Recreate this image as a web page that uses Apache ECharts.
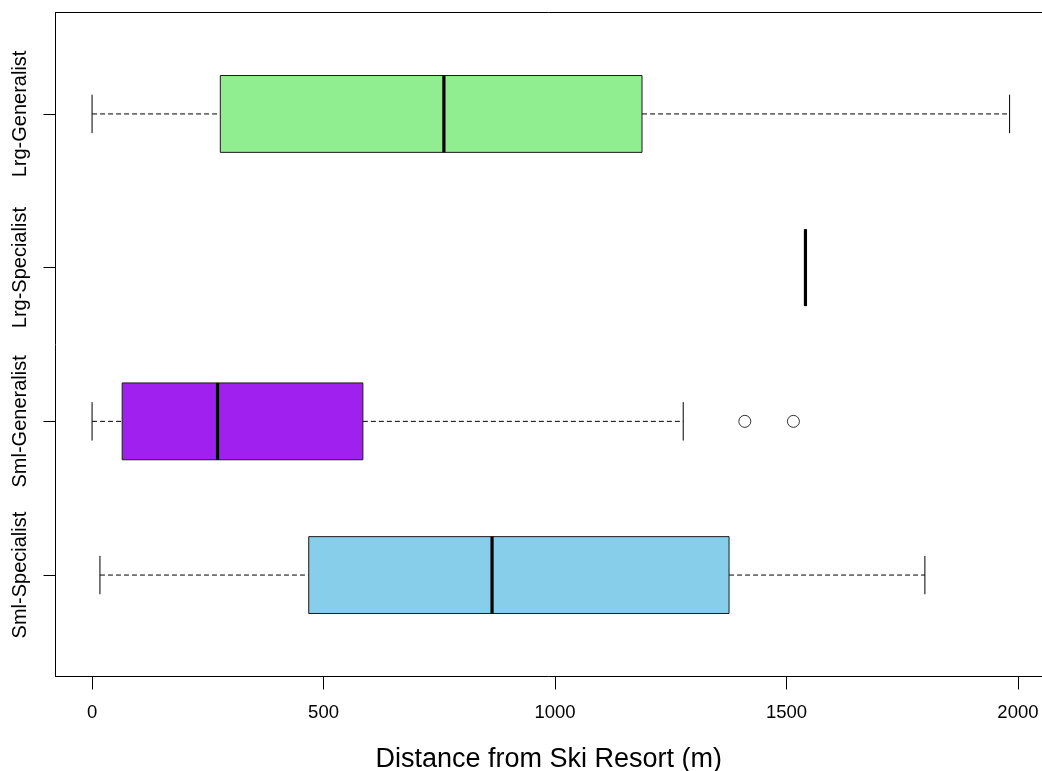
<!DOCTYPE html>
<html>
<head>
<meta charset="utf-8">
<script src="https://cdn.jsdelivr.net/npm/echarts@6/dist/echarts.min.js"></script>
<style>
html,body{margin:0;padding:0;background:#fff;}
#chart{width:1042px;height:771px;}
</style>
</head>
<body>
<div id="chart"></div>
<script>
// Groups from bottom (1) to top (4)
var categories = ['Sml-Specialist', 'Sml-Generalist', 'Lrg-Specialist', 'Lrg-Generalist'];
var lowWhisker  = [17, 0, 1541, 0];
var q1          = [468, 65, 1541, 277];
var median      = [864, 271, 1541, 760];
var q3          = [1376, 585, 1541, 1188];
var highWhisker = [1799, 1277, 1541, 1982];
var boxColors   = ['#87CEEB', '#A020F0', '#87CEEB', '#90EE90'];
var outlierGroup  = 'Sml-Generalist';
var outlierValues = [1410, 1515];
var xTickValues = [0, 500, 1000, 1500, 2000];
var xRange = [-79, 2052];   // visible part of the x axis (plot is cut at the right edge)
var yRange = [0.34, 4.66];

var FONT = "'Liberation Sans', Arial, sans-serif";

var boxData = categories.map(function (c, i) {
  return [i + 1, lowWhisker[i], q1[i], median[i], q3[i], highWhisker[i]];
});
var outlierData = outlierValues.map(function (v) {
  return [v, categories.indexOf(outlierGroup) + 1];
});

function renderBox(params, api) {
  var y = api.value(0);
  var lw = api.value(1), a = api.value(2), m = api.value(3), b = api.value(4), hw = api.value(5);
  var pLow = api.coord([lw, y]);
  var pQ1 = api.coord([a, y]);
  var pMed = api.coord([m, y]);
  var pQ3 = api.coord([b, y]);
  var pHigh = api.coord([hw, y]);
  var half = api.size([0, 0.25])[1];
  var capHalf = half / 2;
  var cy = pMed[1];
  var color = boxColors[params.dataIndex];
  var dashStyle = {stroke: '#000', lineWidth: 1, lineDash: [5, 3]};
  var solid = {stroke: '#000', lineWidth: 1};
  return {
    type: 'group',
    children: [
      {type: 'line', shape: {x1: pLow[0], y1: cy, x2: pQ1[0], y2: cy}, style: dashStyle},
      {type: 'line', shape: {x1: pQ3[0], y1: cy, x2: pHigh[0], y2: cy}, style: dashStyle},
      {type: 'line', shape: {x1: pLow[0], y1: cy - capHalf, x2: pLow[0], y2: cy + capHalf}, style: solid},
      {type: 'line', shape: {x1: pHigh[0], y1: cy - capHalf, x2: pHigh[0], y2: cy + capHalf}, style: solid},
      {type: 'rect', shape: {x: pQ1[0], y: cy - half, width: pQ3[0] - pQ1[0], height: 2 * half},
        style: {fill: color, stroke: '#1a1a1a', lineWidth: 1}},
      {type: 'line', shape: {x1: pMed[0], y1: cy - half, x2: pMed[0], y2: cy + half},
        style: {stroke: '#000', lineWidth: 3.2}}
    ]
  };
}

var chart = echarts.init(document.getElementById('chart'), null, {renderer: 'canvas'});
chart.setOption({
  backgroundColor: '#fff',
  animation: false,
  grid: {
    left: 55.5, right: 0, top: 12.5, bottom: 94.5,
    outerBoundsMode: 'none',
    containLabel: false,
    show: false
  },
  xAxis: [{
    type: 'value',
    position: 'bottom',
    min: xRange[0],
    max: xRange[1],
    name: 'Distance from Ski Resort (m)',
    nameLocation: 'middle',
    nameGap: 70,
    nameTextStyle: {fontFamily: FONT, fontSize: 27, color: '#000'},
    axisLine: {show: true, onZero: false, lineStyle: {color: '#000', width: 1}},
    splitLine: {show: false},
    axisTick: {show: true, length: 13, customValues: xTickValues, lineStyle: {color: '#000'}},
    axisLabel: {
      show: true, customValues: xTickValues, margin: 27,
      fontFamily: FONT, fontSize: 18.5, color: '#000',
      formatter: function (v) { return String(v); }
    }
  }, {
    type: 'value',
    position: 'top',
    min: xRange[0],
    max: xRange[1],
    axisLine: {show: true, onZero: false, lineStyle: {color: '#000', width: 1}},
    splitLine: {show: false},
    axisTick: {show: false},
    axisLabel: {show: false}
  }],
  yAxis: {
    type: 'value',
    position: 'left',
    min: yRange[0],
    max: yRange[1],
    axisLine: {show: true, onZero: false, lineStyle: {color: '#000', width: 1}},
    splitLine: {show: false},
    axisTick: {show: true, length: 12, customValues: [1, 2, 3, 4], lineStyle: {color: '#000'}},
    axisLabel: {
      show: true, customValues: [1, 2, 3, 4], rotate: 90, margin: 25,
      fontFamily: FONT, fontSize: 20, color: '#000',
      formatter: function (v) { return categories[Math.round(v) - 1]; }
    }
  },
  series: [
    {
      type: 'custom',
      renderItem: renderBox,
      data: boxData,
      encode: {x: [1, 2, 3, 4, 5], y: 0},
      silent: true,
      clip: false
    },
    {
      type: 'scatter',
      data: outlierData,
      symbol: 'circle',
      symbolSize: 12,
      itemStyle: {color: '#fff', borderColor: '#000', borderWidth: 1},
      silent: true
    }
  ]
});
</script>
</body>
</html>
